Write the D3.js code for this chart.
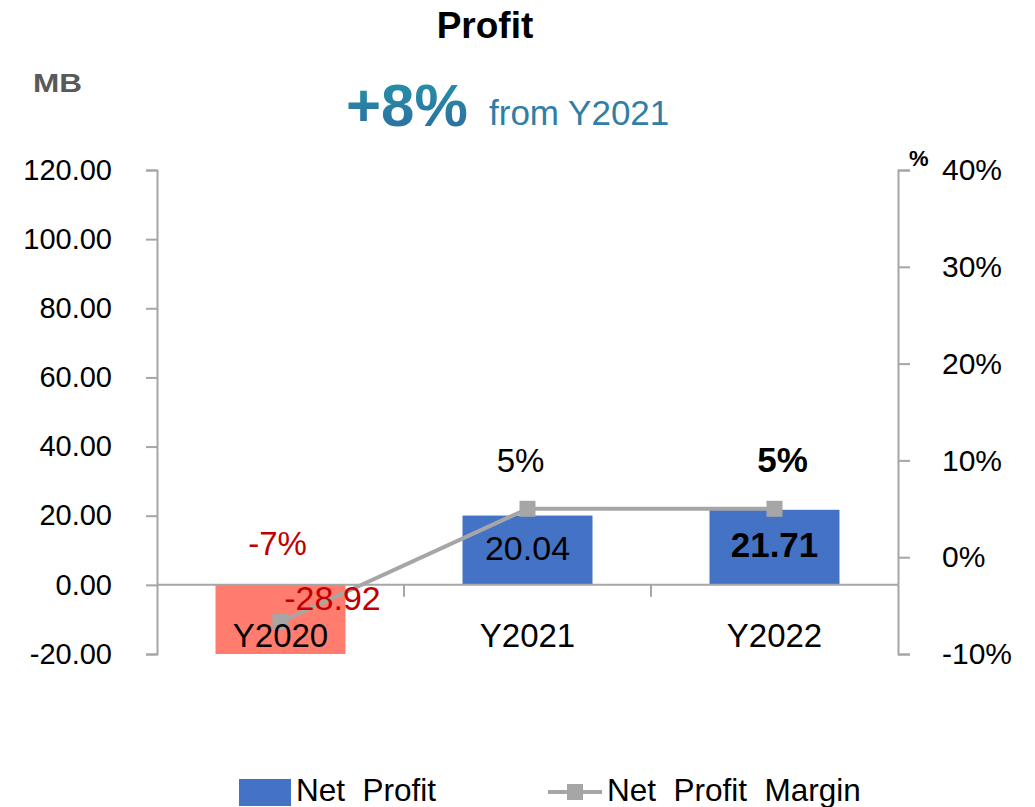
<!DOCTYPE html>
<meta charset="utf-8">
<style>
  body { margin: 0; background: #fff; }
  svg { font-family: "Liberation Sans", Arial, sans-serif; }
  .axis path, .axis line { stroke: #a6a6a6; stroke-width: 2; }
  .axis text { font-size: 29px; fill: #000; }
  .axis.right text { font-size: 30px; }
</style>
<body></body>
<script src="https://cdn.jsdelivr.net/npm/d3@7"></script>
<script>
  const categories = ["Y2020", "Y2021", "Y2022"]
  const netProfit = [-28.92, 20.04, 21.71]
  const margin = [-0.067, 0.05, 0.05]
  const leftTicks = [-20, 0, 20, 40, 60, 80, 100, 120]
  const rightTicks = [-0.1, 0, 0.1, 0.2, 0.3, 0.4]

  const width = 1035, height = 807
  const x0 = 157, x1 = 898, yTop = 170, yBot = 654

  const svg = d3.select("body").append("svg")
    .attr("width", width)
    .attr("height", height)

  const x = d3.scaleBand().domain(categories).range([x0, x1])
  const y = d3.scaleLinear().domain([-20, 120]).range([yBot, yTop])
  const y2 = d3.scaleLinear().domain([-0.1, 0.4]).range([yBot, yTop])
  const cx = (d) => x(d) + x.bandwidth() / 2

  const barW = 130
  const minus = (s) => s.replace("\u2212", "-")

  // titles
  svg.append("text").attr("x", 485).attr("y", 38).attr("text-anchor", "middle")
    .attr("font-size", 37).attr("font-weight", "bold").text("Profit")
  svg.append("text").attr("x", 33).attr("y", 92)
    .attr("font-size", 26).attr("font-weight", "bold").attr("fill", "#595959")
    .attr("textLength", 49).attr("lengthAdjust", "spacingAndGlyphs").text("MB")

  const defs = svg.append("defs")
  const grad = defs.append("linearGradient").attr("id", "tg").attr("x1", 0).attr("y1", 0).attr("x2", 0).attr("y2", 1)
  grad.append("stop").attr("offset", "0%").attr("stop-color", "#2495a9")
  grad.append("stop").attr("offset", "100%").attr("stop-color", "#2e6a9e")

  svg.append("text").attr("x", 346).attr("y", 126)
    .attr("font-size", 60).attr("font-weight", "bold").attr("fill", "url(#tg)").text("+8%")
  svg.append("text").attr("x", 489).attr("y", 125)
    .attr("font-size", 35).attr("fill", "#2e7ea6").text("from Y2021")

  // bars (clipped to plot area)
  defs.append("clipPath").attr("id", "plot").append("rect")
    .attr("x", x0).attr("y", yTop).attr("width", x1 - x0).attr("height", yBot - yTop)

  svg.append("g").attr("clip-path", "url(#plot)")
    .selectAll("rect").data(categories).join("rect")
    .attr("x", (d) => cx(d) - barW / 2)
    .attr("width", barW)
    .attr("y", (d, i) => y(Math.max(0, netProfit[i])))
    .attr("height", (d, i) => Math.abs(y(netProfit[i]) - y(0)))
    .attr("fill", (d, i) => netProfit[i] < 0 ? "#ff7c6e" : "#4472c4")

  // left axis
  svg.append("g").attr("class", "axis").attr("transform", `translate(${x0},0)`)
    .call(d3.axisLeft(y).tickValues(leftTicks).tickFormat((d) => minus(d3.format(".2f")(d)))
      .tickSize(11).tickSizeOuter(11).tickPadding(34))

  // right axis
  svg.append("g").attr("class", "axis right").attr("transform", `translate(${x1},0)`)
    .call(d3.axisRight(y2).tickValues(rightTicks).tickFormat((d) => minus(d3.format(".0%")(d)))
      .tickSize(12).tickSizeOuter(12).tickPadding(32))

  svg.append("text").attr("x", 909).attr("y", 166).attr("font-size", 22).attr("font-weight", "bold").text("%")

  // zero line with category ticks
  const zero = svg.append("g").attr("class", "axis")
  zero.append("line").attr("x1", x0).attr("x2", x1).attr("y1", y(0)).attr("y2", y(0))
  zero.selectAll("line.tk").data(categories.slice(1)).join("line").attr("class", "tk")
    .attr("x1", (d) => x(d)).attr("x2", (d) => x(d))
    .attr("y1", y(0)).attr("y2", y(0) + 12)

  // line series
  const line = d3.line().x((d, i) => cx(categories[i])).y((d) => y2(d))
  svg.append("path").datum(margin).attr("d", line)
    .attr("fill", "none").attr("stroke", "#a6a6a6").attr("stroke-width", 4)
  svg.append("g").selectAll("rect").data(margin).join("rect")
    .attr("x", (d, i) => cx(categories[i]) - 8)
    .attr("y", (d) => y2(d) - 8)
    .attr("width", 16).attr("height", 16).attr("fill", "#a6a6a6")

  // category labels
  svg.append("g").selectAll("text").data(categories).join("text")
    .attr("x", cx)
    .attr("y", 647).attr("text-anchor", "middle").attr("font-size", 33).text((d) => d)

  // bar value labels
  const fmt2 = (v) => minus(d3.format(".2f")(v))
  svg.append("g").selectAll("text").data(categories).join("text")
    .attr("x", (d, i) => cx(d) + (netProfit[i] < 0 ? 52 : 0))
    .attr("y", (d, i) => netProfit[i] < 0 ? 610 : y(netProfit[i] / 2) + 10)
    .attr("text-anchor", "middle")
    .attr("font-size", (d, i) => i === 2 ? 35 : 34)
    .attr("font-weight", (d, i) => i === 2 ? "bold" : "normal")
    .attr("fill", (d, i) => netProfit[i] < 0 ? "#c00000" : "#000")
    .text((d, i) => fmt2(netProfit[i]))

  // margin labels
  const fmtP = (v) => minus(d3.format(".0%")(v))
  svg.append("g").selectAll("text").data(categories).join("text")
    .attr("x", (d, i) => cx(d) + (i === 0 ? -3 : i === 1 ? -7 : 8))
    .attr("y", (d, i) => margin[i] < 0 ? 555 : 472)
    .attr("text-anchor", "middle")
    .attr("font-size", (d, i) => i === 2 ? 35 : 33)
    .attr("font-weight", (d, i) => i === 2 ? "bold" : "normal")
    .attr("fill", (d, i) => margin[i] < 0 ? "#c00000" : "#000")
    .text((d, i) => fmtP(margin[i]))

  // legend
  const lg = svg.append("g").attr("font-size", 31.5)
  lg.append("rect").attr("x", 239).attr("y", 779).attr("width", 52).attr("height", 27).attr("fill", "#4472c4")
  lg.append("text").attr("x", 296).attr("y", 801).text("Net\u00a0\u00a0Profit")
  lg.append("line").attr("x1", 548).attr("x2", 602).attr("y1", 792).attr("y2", 792)
    .attr("stroke", "#a6a6a6").attr("stroke-width", 4)
  lg.append("rect").attr("x", 567).attr("y", 784).attr("width", 16).attr("height", 16).attr("fill", "#a6a6a6")
  lg.append("text").attr("x", 607).attr("y", 801).text("Net\u00a0\u00a0Profit\u00a0\u00a0Margin")
</script>
